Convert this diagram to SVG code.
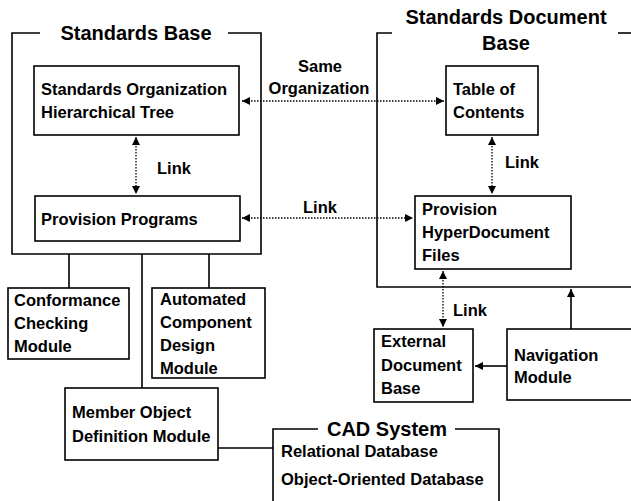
<svg xmlns="http://www.w3.org/2000/svg" width="631" height="501" viewBox="0 0 631 501">
<defs>
<style>
.t{font-family:"Liberation Sans",Arial,sans-serif;font-size:16.5px;font-weight:bold;fill:#000}
.h{font-family:"Liberation Sans",Arial,sans-serif;font-size:20px;font-weight:bold;fill:#000}
.b{fill:#fff;stroke:#000;stroke-width:1.6}
.l{fill:none;stroke:#000;stroke-width:1.6}
.d{fill:none;stroke:#000;stroke-width:1.3;stroke-dasharray:1.5 1.5}
</style>
<marker id="a" viewBox="0 0 10 10" refX="10" refY="5" markerWidth="8" markerHeight="8" markerUnits="userSpaceOnUse" orient="auto-start-reverse">
<path d="M0,0 L10,5 L0,10 z" fill="#000"/>
</marker>
</defs>
<rect width="631" height="501" fill="#fff"/>

<g id="standards-base">
<path class="l" d="M40,33 H12 V254 H261 V33 H228"/>
<text class="h" x="136" y="40" text-anchor="middle">Standards Base</text>
</g>

<g id="standards-document-base">
<path class="l" d="M392,33 H377 V287 H640"/>
<path class="l" d="M618,33 H640"/>
<text class="h" x="506" y="24" text-anchor="middle">Standards Document</text>
<text class="h" x="506" y="50" text-anchor="middle">Base</text>
</g>

<g id="cad-system">
<path class="l" d="M318,429 H273 V505 H499 V429 H455"/>
<text class="h" x="387" y="436" text-anchor="middle">CAD System</text>
<text class="t" x="281" y="457">Relational Database</text>
<text class="t" x="281" y="485">Object-Oriented Database</text>
</g>

<g id="connectors">
<path class="d" d="M242,101 H444" marker-start="url(#a)" marker-end="url(#a)"/>
<path class="d" d="M136,137 V194" marker-start="url(#a)" marker-end="url(#a)"/>
<path class="d" d="M242,218 H413" marker-start="url(#a)" marker-end="url(#a)"/>
<path class="d" d="M492,137 V194" marker-start="url(#a)" marker-end="url(#a)"/>
<path class="d" d="M443,271 V327" marker-start="url(#a)" marker-end="url(#a)"/>
<path class="l" d="M69,254 V288 M142,254 V388 M209,254 V288 M218,448 H273"/>
<path class="l" d="M507,366 H475" marker-end="url(#a)"/>
<path class="l" d="M571,329 V289" marker-end="url(#a)"/>
<text class="t" x="320" y="72" text-anchor="middle">Same</text>
<text class="t" x="319" y="94" text-anchor="middle">Organization</text>
<text class="t" x="157" y="174">Link</text>
<text class="t" x="303" y="213">Link</text>
<text class="t" x="505" y="168">Link</text>
<text class="t" x="453" y="316">Link</text>
</g>

<g id="standards-organization-tree">
<rect class="b" x="34" y="66" width="205" height="69"/>
<text class="t" x="41" y="95">Standards Organization</text>
<text class="t" x="41" y="118">Hierarchical Tree</text>
</g>

<g id="provision-programs">
<rect class="b" x="35" y="196" width="205" height="45"/>
<text class="t" x="41" y="225">Provision Programs</text>
</g>

<g id="table-of-contents">
<rect class="b" x="446" y="66" width="92" height="69"/>
<text class="t" x="453" y="95">Table of</text>
<text class="t" x="453" y="118">Contents</text>
</g>

<g id="provision-hyperdocument-files">
<rect class="b" x="415" y="196" width="156" height="73"/>
<text class="t" x="422" y="215">Provision</text>
<text class="t" x="422" y="238">HyperDocument</text>
<text class="t" x="422" y="261">Files</text>
</g>

<g id="conformance-checking-module">
<rect class="b" x="8" y="288" width="121" height="71"/>
<text class="t" x="14" y="306">Conformance</text>
<text class="t" x="14" y="329">Checking</text>
<text class="t" x="14" y="352">Module</text>
</g>

<g id="automated-component-design-module">
<rect class="b" x="152" y="288" width="113" height="90"/>
<text class="t" x="160" y="305">Automated</text>
<text class="t" x="160" y="328">Component</text>
<text class="t" x="160" y="351">Design</text>
<text class="t" x="160" y="374">Module</text>
</g>

<g id="member-object-definition-module">
<rect class="b" x="65" y="388" width="153" height="72"/>
<text class="t" x="72" y="418">Member Object</text>
<text class="t" x="72" y="442">Definition Module</text>
</g>

<g id="external-document-base">
<rect class="b" x="374" y="329" width="99" height="73"/>
<text class="t" x="381" y="347">External</text>
<text class="t" x="381" y="371">Document</text>
<text class="t" x="381" y="394">Base</text>
</g>

<g id="navigation-module">
<rect class="b" x="507" y="329" width="140" height="71"/>
<text class="t" x="514" y="361">Navigation</text>
<text class="t" x="514" y="383">Module</text>
</g>
</svg>
